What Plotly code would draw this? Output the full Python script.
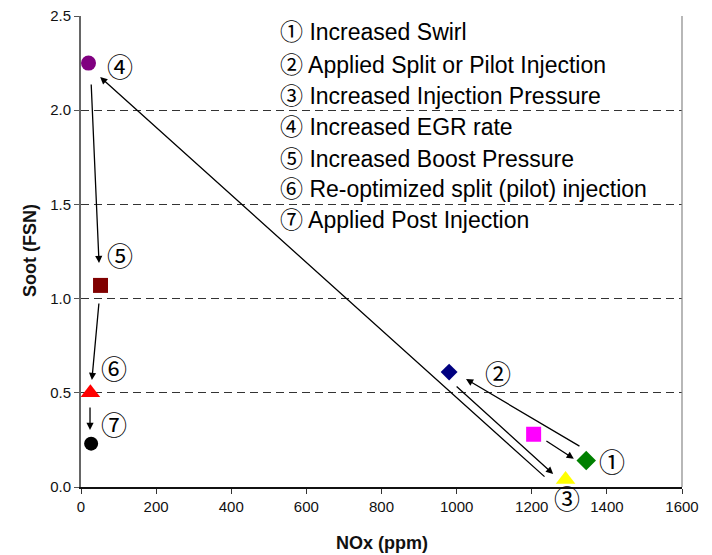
import plotly.graph_objects as go

# Engine calibration steps: NOx vs soot at each stage
stage_nox = [1205, 1345, 980, 1290, 20, 52, 25, 27]
stage_soot = [0.28, 0.14, 0.61, 0.04, 2.25, 1.07, 0.50, 0.23]
stage_symbol = ["square", "diamond", "diamond", "triangle-up", "circle", "square", "triangle-up", "circle"]
stage_color = ["#FF00FF", "#008000", "#000080", "#FFFF00", "#800080", "#800000", "#FF0000", "#000000"]
stage_size = [15, 15, 13, 17, 15, 15, 17, 14]

# Arrows between stages (tail -> head), in data units
arrow_tail_x = [1235, 1331, 996, 1238, 27, 48, 24]
arrow_tail_y = [0.249, 0.212, 0.541, 0.048, 2.144, 0.982, 0.43]
arrow_head_x = [1312, 1025, 1257, 51, 48, 29, 24]
arrow_head_y = [0.150, 0.573, 0.069, 2.176, 1.189, 0.568, 0.303]

# Circled step numbers next to the points
step_labels = ["①", "②", "③", "④", "⑤", "⑥", "⑦"]
step_label_x = [1414, 1110, 1294, 104, 104, 88, 88]
step_label_y = [0.127, 0.594, -0.069, 2.224, 1.221, 0.621, 0.324]

# Key of the steps
key_lines = [
    "① Increased Swirl",
    "② Applied Split or Pilot Injection",
    "③ Increased Injection Pressure",
    "④ Increased EGR rate",
    "⑤ Increased Boost Pressure",
    "⑥ Re-optimized split (pilot) injection",
    "⑦ Applied Post Injection",
]
key_y = [2.415, 2.242, 2.075, 1.910, 1.741, 1.581, 1.417]
key_x = 524

x_range = [0, 1600]
y_range = [0, 2.5]
x_ticks = list(range(0, 1601, 200))
y_ticks = [0.0, 0.5, 1.0, 1.5, 2.0, 2.5]

FONT = "Arial, Liberation Sans, Noto Sans CJK JP, DejaVu Sans"

fig = go.Figure()
fig.add_trace(go.Scatter(
    x=stage_nox, y=stage_soot, mode="markers",
    marker=dict(symbol=stage_symbol, color=stage_color, size=stage_size,
                opacity=1, line=dict(width=0)),
    cliponaxis=False, showlegend=False, hoverinfo="x+y",
))

for tx, ty, hx, hy in zip(arrow_tail_x, arrow_tail_y, arrow_head_x, arrow_head_y):
    fig.add_annotation(
        x=hx, y=hy, ax=tx, ay=ty, xref="x", yref="y", axref="x", ayref="y",
        text="", showarrow=True, arrowhead=2, arrowsize=1.1, arrowwidth=1.3,
        arrowcolor="black", standoff=0, startstandoff=0,
    )

# step numbers are placed in axis-domain units so that labels below the
# x axis (outside the data range) still get drawn
for lab, lx, ly in zip(step_labels, step_label_x, step_label_y):
    fig.add_annotation(
        x=(lx - x_range[0]) / (x_range[1] - x_range[0]),
        y=(ly - y_range[0]) / (y_range[1] - y_range[0]),
        xref="x domain", yref="y domain", text=lab, showarrow=False,
        xanchor="center", yanchor="middle",
        font=dict(family=FONT, size=26, color="black"),
    )

for line, ky in zip(key_lines, key_y):
    fig.add_annotation(
        x=key_x, y=ky, xref="x", yref="y", text=line, showarrow=False,
        xanchor="left", yanchor="middle",
        font=dict(family=FONT, size=23, color="black"),
    )

# axis titles
fig.add_annotation(x=0.5, y=-0.119, xref="paper", yref="paper", text="<b>NOx (ppm)</b>",
                   showarrow=False, xanchor="center", yanchor="middle",
                   font=dict(family=FONT, size=18, color="#111111"))
fig.add_annotation(x=-0.085, y=0.503, xref="paper", yref="paper", text="<b>Soot (FSN)</b>",
                   showarrow=False, xanchor="center", yanchor="middle", textangle=-90,
                   font=dict(family=FONT, size=18, color="#111111"))

# right-hand frame line
fig.add_shape(type="line", xref="paper", yref="paper", x0=1, x1=1, y0=0, y1=1,
              line=dict(color="#888888", width=1.2))

fig.update_layout(
    width=712, height=555,
    margin=dict(l=81, r=30, t=16, b=68, autoexpand=False),
    paper_bgcolor="white", plot_bgcolor="white",
    font=dict(family=FONT, size=15, color="#111111"),
    xaxis=dict(
        range=x_range, tickvals=x_ticks, ticks="outside", ticklen=5,
        tickcolor="#333333", showline=True, linecolor="#111111", linewidth=1.5,
        showgrid=False, zeroline=False, automargin=False,
        tickfont=dict(size=15),
    ),
    yaxis=dict(
        range=y_range, tickvals=y_ticks, tickformat=".1f", ticks="outside", ticklen=5,
        tickcolor="#555555", showline=True, linecolor="#666666", linewidth=2,
        showgrid=True, gridcolor="#333333", griddash="8px,5px", gridwidth=1,
        zeroline=False, automargin=False,
        tickfont=dict(size=15),
    ),
)

fig.write_html("out.html")
